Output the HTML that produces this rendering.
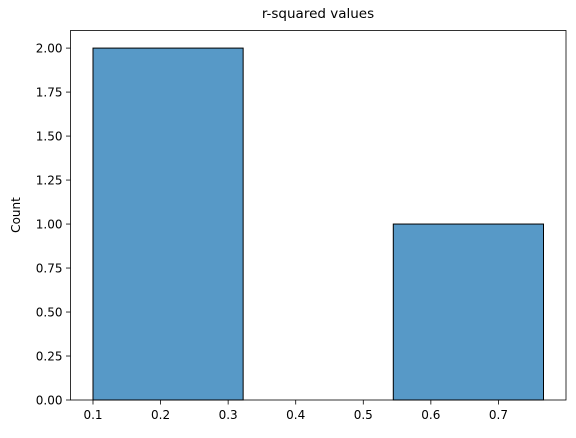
<!DOCTYPE html>
<html><head><meta charset="utf-8"><style>
html,body{margin:0;padding:0;background:#fff;}
svg text{font-family:"DejaVu Sans","Liberation Sans",sans-serif;fill:#000;}
</style></head><body>
<svg id="chart" width="576" height="433" viewBox="0 0 576 433">
<text x="318" y="18" font-size="13.5" text-anchor="middle">r-squared values</text>
<text x="0" y="0" font-size="12" text-anchor="middle" transform="translate(20,215) rotate(-90)">Count</text>
<g id="bars"></g>
<g id="axes"></g>
</svg>
<script>
const binEdges = [0.1, 0.3222, 0.5444, 0.7667];
const counts = [2, 0, 1];
const xTicks = [0.1, 0.2, 0.3, 0.4, 0.5, 0.6, 0.7];
const yTicks = [0, 0.25, 0.5, 0.75, 1.0, 1.25, 1.5, 1.75, 2.0];

const L=70.5,R=566,T=30.5,B=400;
const xmin=0.0667,xmax=0.8,ymax=2.1;
const sx=v=>L+(v-xmin)/(xmax-xmin)*(R-L);
const sy=v=>B-v/ymax*(B-T);
const NS='http://www.w3.org/2000/svg';
const bars=document.getElementById('bars'), axes=document.getElementById('axes');
function mk(tag,attrs,parent){const e=document.createElementNS(NS,tag);for(const k in attrs)e.setAttribute(k,attrs[k]);parent.appendChild(e);return e;}
counts.forEach((c,i)=>{
  if(c<=0)return;
  const x0=sx(binEdges[i]),x1=sx(binEdges[i+1]);
  const r=mk('rect',{x:x0,y:sy(c),width:x1-x0,height:B-sy(c),fill:'rgb(87,153,199)',stroke:'#000','stroke-width':1},bars);
  
  
});
const frame=mk('rect',{x:L,y:T,width:R-L,height:B-T,fill:'none',stroke:'#000','stroke-width':0.8},axes);


xTicks.forEach(v=>{
  const x=sx(v);
  mk('line',{x1:x,x2:x,y1:B,y2:B+4.5,stroke:'#000','stroke-width':0.8},axes);
  const t=mk('text',{x:x,y:B+19,'font-size':12,'text-anchor':'middle'},axes);
  t.textContent=v.toFixed(1);
  
  
});
yTicks.forEach(v=>{
  const y=sy(v);
  mk('line',{x1:L-4.5,x2:L,y1:y,y2:y,stroke:'#000','stroke-width':0.8},axes);
  const t=mk('text',{x:L-8,y:y+4.3,'font-size':12,'text-anchor':'end'},axes);
  t.textContent=v.toFixed(2);
  
  
});
</script>
</body></html>
